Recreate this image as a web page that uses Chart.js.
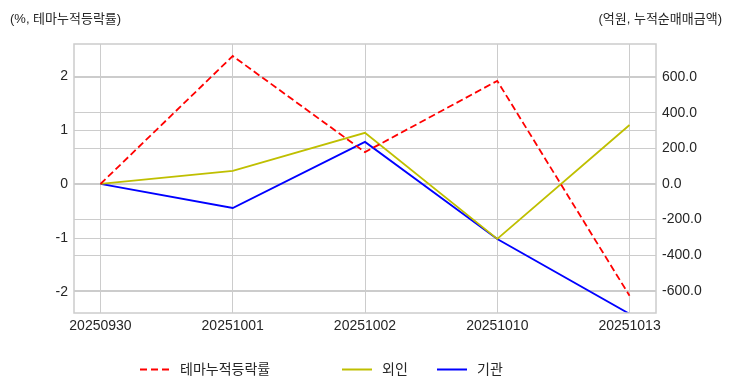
<!DOCTYPE html>
<html><head><meta charset="utf-8">
<script src="https://cdn.jsdelivr.net/npm/chart.js@4/dist/chart.umd.min.js"></script>
<style>
html,body{margin:0;padding:0;background:#fff;}
#wrap{position:relative;width:732px;height:392px;font-family:"Liberation Sans","Noto Sans CJK KR",sans-serif;color:#262626;}
canvas{position:absolute;left:0;top:0;}
.lab{position:absolute;font-size:13px;white-space:nowrap;}
.leg{position:absolute;top:360px;font-size:14px;white-space:nowrap;line-height:18px;}
.sw{position:absolute;top:368px;}
</style></head>
<body>
<div id="wrap">
<canvas id="c" width="732" height="392"></canvas>
<div class="lab" style="left:10px;top:8px;">(%, 테마누적등락률)</div>
<div class="lab" style="right:10px;top:8px;">(억원, 누적순매매금액)</div>
<svg class="sw" style="left:140px" width="30" height="3"><line x1="0" y1="1.5" x2="30" y2="1.5" stroke="#ff0000" stroke-width="2" stroke-dasharray="7 4"/></svg>
<div class="leg" style="left:180px;">테마누적등락률</div>
<svg class="sw" style="left:342px" width="30" height="3"><line x1="0" y1="1.5" x2="30" y2="1.5" stroke="#bfbf00" stroke-width="2"/></svg>
<div class="leg" style="left:382px;">외인</div>
<svg class="sw" style="left:437px" width="30" height="3"><line x1="0" y1="1.5" x2="30" y2="1.5" stroke="#0000ff" stroke-width="2"/></svg>
<div class="leg" style="left:477px;">기관</div>
</div>
<script>
const categories = ['20250930','20251001','20251002','20251010','20251013'];
const themeReturn = [0, 2.37, 0.59, 1.91, -2.07];
const foreign = [0, 73, 287, -309, 331];
const institution = [0, -135, 236, -309, -730];
const leftTicks = [-2, -1, 0, 1, 2];
const rightTicks = [-600, -400, -200, 0, 200, 400, 600];

const toPts = arr => arr.map((v, i) => ({x: i, y: v}));
const grid = {color: '#cccccc', lineWidth: 1, drawTicks: false};
const tickFont = {family: '"Liberation Sans","Noto Sans CJK KR",sans-serif', size: 14};

const frame = {
  id: 'frame',
  afterDraw(chart) {
    const a = chart.chartArea, ctx = chart.ctx;
    ctx.save();
    ctx.strokeStyle = '#cccccc';
    ctx.lineWidth = 1.5;
    ctx.strokeRect(a.left, a.top, a.right - a.left, a.bottom - a.top);
    ctx.restore();
  }
};

new Chart(document.getElementById('c'), {
  type: 'line',
  data: {
    datasets: [
      {label: '테마누적등락률', data: toPts(themeReturn), yAxisID: 'y', borderColor: '#ff0000', borderDash: [7, 3.5], borderWidth: 1.8, pointRadius: 0, tension: 0, fill: false},
      {label: '외인', data: toPts(foreign), yAxisID: 'y2', borderColor: '#bfbf00', borderWidth: 1.8, pointRadius: 0, tension: 0, fill: false},
      {label: '기관', data: toPts(institution), yAxisID: 'y2', borderColor: '#0000ff', borderWidth: 1.8, pointRadius: 0, tension: 0, fill: false}
    ]
  },
  options: {
    responsive: false,
    animation: false,
    layout: {padding: {top: 44, left: 0, right: 0, bottom: 0}},
    plugins: {legend: {display: false}, tooltip: {enabled: false}},
    scales: {
      x: {
        type: 'linear', min: -0.2, max: 4.2,
        grid: grid, border: {display: false},
        afterBuildTicks: s => { s.ticks = categories.map((c, i) => ({value: i})); },
        ticks: {font: tickFont, color: '#262626', padding: 5, maxRotation: 0, autoSkip: false,
          callback: v => categories[v] ?? ''},
        afterFit: s => { s.height = 79; }
      },
      y: {
        position: 'left', min: -2.389, max: 2.593,
        grid: grid, border: {display: false},
        afterBuildTicks: s => { s.ticks = leftTicks.map(v => ({value: v})); },
        ticks: {font: tickFont, color: '#262626', padding: 6, callback: v => String(v)},
        afterFit: s => { s.width = 74; }
      },
      y2: {
        position: 'right', min: -725, max: 786,
        grid: grid, border: {display: false},
        afterBuildTicks: s => { s.ticks = rightTicks.map(v => ({value: v})); },
        ticks: {font: tickFont, color: '#262626', padding: 6, callback: v => Number(v).toFixed(1)},
        afterFit: s => { s.width = 76; }
      }
    }
  },
  plugins: [frame]
});
</script>
</body></html>
